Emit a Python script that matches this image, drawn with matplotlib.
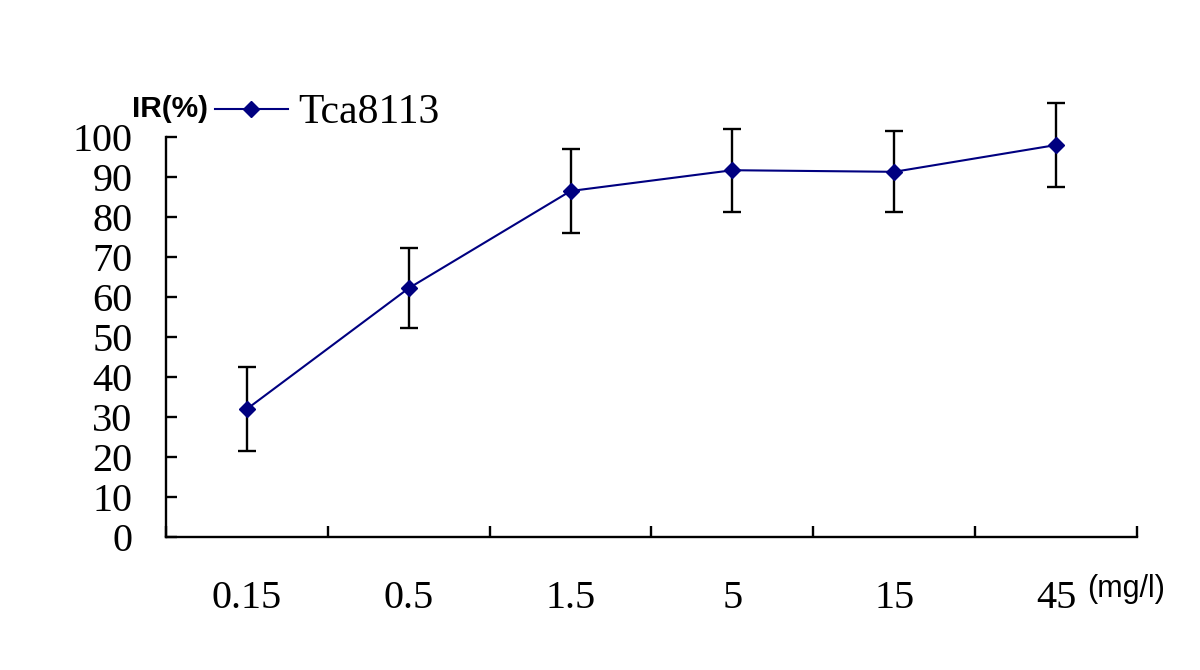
import matplotlib
matplotlib.use('agg')
import matplotlib.pyplot as plt

# concentrations (mg/l) and inhibition rate (%) with error bars
doses = ['0.15', '0.5', '1.5', '5', '15', '45']
ir_mean = [32, 62.2, 86.5, 91.7, 91.3, 98]
ir_err = [10.4, 10.0, 10.5, 10.4, 10.1, 10.4]
y_ticks = [0, 10, 20, 30, 40, 50, 60, 70, 80, 90, 100]

tick_font = 'Liberation Serif'
navy = '#000080'

fig = plt.figure(figsize=(12, 6.7), dpi=100)
ax = fig.add_axes([0.1383, 0.1985, 0.8092, 0.597])

x = list(range(len(doses)))
ax.errorbar(x, ir_mean, yerr=ir_err, fmt='none', ecolor='black',
            elinewidth=1.7, capsize=6.5, capthick=1.7, clip_on=False, zorder=2)
line, = ax.plot(x, ir_mean, color=navy, linewidth=1.5, marker='D',
                markersize=8.5, markerfacecolor=navy, markeredgecolor=navy,
                clip_on=False, zorder=3, label='Tca8113')

ax.set_xlim(-0.5, len(doses) - 0.5)
ax.set_ylim(0, 100)

# spines: only left and bottom
for side in ['top', 'right']:
    ax.spines[side].set_visible(False)
for side in ['left', 'bottom']:
    ax.spines[side].set_linewidth(1.7)

# y ticks pointing inward
ax.set_yticks(y_ticks)
ax.set_yticklabels([str(v) for v in y_ticks], fontfamily=tick_font, fontsize=29)
ax.tick_params(axis='y', direction='in', length=8, width=1.7, pad=24)

# x: boundary ticks without labels, labels at category centers
ax.set_xticks([i - 0.5 for i in range(len(doses) + 1)])
ax.set_xticklabels([])
ax.tick_params(axis='x', which='major', direction='in', length=8, width=1.7)
ax.set_xticks(x, minor=True)
ax.set_xticklabels(doses, minor=True, fontfamily=tick_font, fontsize=29)
ax.tick_params(axis='x', which='minor', length=0, pad=31)

leg = fig.legend(handles=[line], loc='center left', bbox_to_anchor=(215 / 1200, 0.831),
                 frameon=False, borderpad=0, borderaxespad=0, handlelength=1.75,
                 handletextpad=0.25, prop={'family': tick_font, 'size': 30})

fig.text(132 / 1200, 0.8254, 'IR(%)', fontfamily='Liberation Sans', fontweight='bold',
         fontsize=21.5, ha='left', va='baseline')
fig.text(1087 / 1200, 0.109, '(mg/l)', fontfamily='Liberation Sans',
         fontsize=22, ha='left', va='baseline')

fig.savefig('out.png', dpi=100, facecolor='white')
